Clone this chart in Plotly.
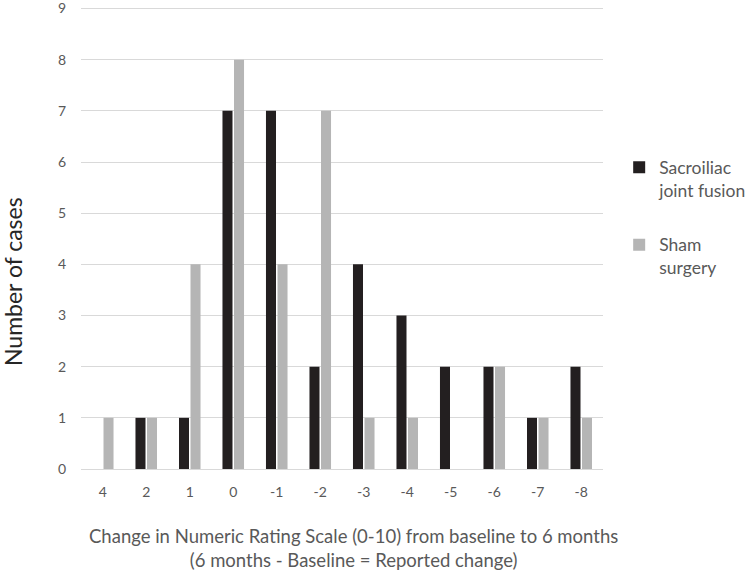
import plotly.graph_objects as go

categories = ["4", "2", "1", "0", "-1", "-2", "-3", "-4", "-5", "-6", "-7", "-8"]
sacroiliac = [0, 1, 1, 7, 7, 2, 4, 3, 2, 2, 1, 2]
sham = [1, 1, 4, 8, 4, 7, 1, 1, 0, 2, 1, 1]
series_names = ["Sacroiliac<br>joint fusion", "Sham<br>surgery"]
y_ticks = list(range(0, 10))
x_title = "Change in Numeric Rating Scale (0-10) from baseline to 6 months<br>(6 months - Baseline = Reported change)"
y_title = "Number of cases"

FONT = "Lato"
GRAY_TEXT = "#595959"

fig = go.Figure()
fig.add_trace(go.Bar(x=categories, y=sacroiliac, name=series_names[0], legendgroup="a",
                     marker=dict(color="#231f20", line=dict(width=0))))
fig.add_trace(go.Bar(x=categories, y=sham, name=series_names[1], legendgroup="b",
                     marker=dict(color="#b5b5b5", line=dict(width=0))))

fig.update_layout(
    width=748, height=575,
    margin=dict(l=81, r=145, t=7, b=106, autoexpand=False),
    paper_bgcolor="white", plot_bgcolor="white",
    barmode="group", bargap=0.47, bargroupgap=0.13,
    font=dict(family=FONT, color=GRAY_TEXT, size=14),
    showlegend=True,
    legend=dict(x=1.031, y=0.692, xanchor="left", yanchor="top", valign="top",
                font=dict(family=FONT, size=17.5, color=GRAY_TEXT),
                tracegroupgap=29, itemwidth=30, bgcolor="rgba(0,0,0,0)"),
    xaxis=dict(type="category", categoryorder="array", categoryarray=categories,
               automargin=False,
               showline=True, linecolor="#d9d9d9", linewidth=1,
               showgrid=False, ticks="", ticklabelstandoff=10,
               tickfont=dict(family=FONT, size=14, color=GRAY_TEXT)),
    yaxis=dict(range=[0, 9.03], tickvals=y_ticks, showgrid=True, gridcolor="#d9d9d9",
               automargin=False, ticklabeloverflow="allow",
               gridwidth=1, zeroline=False, showline=False, ticks="",
               ticklabelstandoff=14,
               tickfont=dict(family=FONT, size=14, color=GRAY_TEXT)),
    annotations=[
        dict(text=x_title,
             xref="paper", yref="paper", x=(353 - 81) / 522, y=(469 - 523) / 462,
             xanchor="center", yanchor="top", showarrow=False, align="center",
             font=dict(family=FONT, size=18.5, color=GRAY_TEXT)),
        dict(text=y_title, textangle=-90,
             xref="paper", yref="paper", x=(13 - 81) / 522, y=(469 - 282) / 462,
             xanchor="center", yanchor="middle", showarrow=False,
             font=dict(family=FONT, size=23, color="#262626")),
    ],
)

fig.write_html("out.html", config={"displayModeBar": False},
               post_script="document.body.style.margin='0';document.body.style.padding='0';")
